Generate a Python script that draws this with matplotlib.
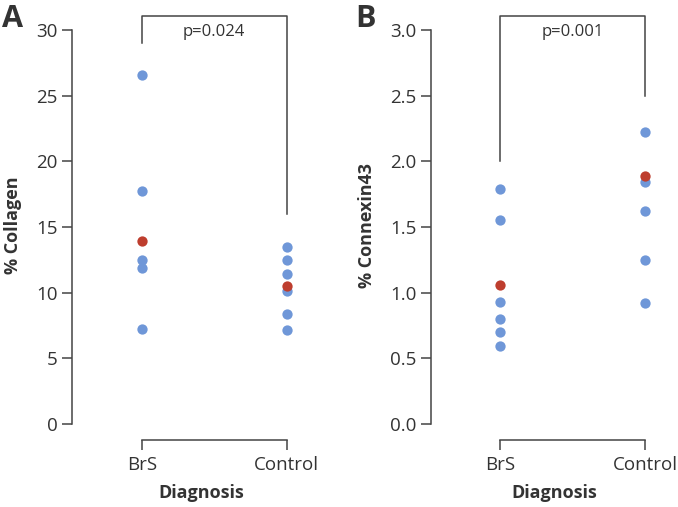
import matplotlib.pyplot as plt

plt.rcParams['font.family'] = ['Open Sans', 'DejaVu Sans']

groups = ['BrS', 'Control']

# panel A: % collagen
collagen_brs = [26.6, 17.7, 12.5, 11.9, 7.2]
collagen_brs_red = [13.9]
collagen_ctl = [13.5, 12.5, 11.4, 10.15, 8.4, 7.15]
collagen_ctl_red = [10.5]

# panel B: % connexin43
cx43_brs = [1.79, 1.55, 0.93, 0.80, 0.70, 0.59]
cx43_brs_red = [1.06]
cx43_ctl = [2.22, 1.84, 1.62, 1.25, 0.92]
cx43_ctl_red = [1.89]

BLUE = '#6f97d8'
RED = '#be3e2e'
TXT = '#333333'
W, H = 678, 507


def panel(px_left, px_right, px_cat0, ylab, yticks, ymin, ymax, brs, brs_red, ctl, ctl_red,
          legs, ptxt, letter, letter_x, ticklabels):
    ax = fig.add_axes([px_left / W, (H - 440) / H, (px_right - px_left) / W, 430 / H])
    ax.scatter([0] * len(brs), brs, s=55, color=BLUE, zorder=3, linewidths=0)
    ax.scatter([1] * len(ctl), ctl, s=55, color=BLUE, zorder=3, linewidths=0)
    ax.scatter([0] * len(brs_red), brs_red, s=55, color=RED, zorder=4, linewidths=0)
    ax.scatter([1] * len(ctl_red), ctl_red, s=55, color=RED, zorder=4, linewidths=0)

    ax.set_xlim((px_left - px_cat0) / 145, (px_right - px_cat0) / 145)
    ax.set_ylim(ymin, ymax)
    for s in ['top', 'right']:
        ax.spines[s].set_visible(False)
    ax.spines['left'].set_bounds(yticks[0], yticks[-1])
    ax.spines['bottom'].set_bounds(0, 1)
    for s in ['left', 'bottom']:
        ax.spines[s].set_color('#444444')
        ax.spines[s].set_linewidth(1.1)
    ax.set_yticks(yticks)
    ax.set_yticklabels(ticklabels)
    ax.set_xticks([0, 1])
    ax.set_xticklabels(groups)
    ax.tick_params(axis='both', length=7.2, width=1.1, color='#444444',
                   labelsize=13.5, labelcolor=TXT)
    ax.tick_params(axis='x', pad=4.5)
    ax.tick_params(axis='y', pad=3)
    ax.set_ylabel(ylab, fontsize=13, fontweight='bold', color=TXT, labelpad=10)
    ax.set_xlabel('Diagnosis', fontsize=13, fontweight='bold', color=TXT, labelpad=7)

    top = ymax - (ymax - ymin) * 6 / 430
    ax.plot([0, 0, 1, 1], [legs[0], top, top, legs[1]], color='#444444', lw=1.1,
            clip_on=False)
    ax.text(0.5, top - (ymax - ymin) * 16 / 430, ptxt, ha='center', va='center',
            fontsize=12, color=TXT)
    fig.text(letter_x / W, 1 - 19 / H, letter, fontsize=22, fontweight='bold',
             color=TXT, ha='center', va='center')
    return ax


fig = plt.figure(figsize=(6.78, 5.07), dpi=100)

panel(72, 330, 141.7, '% Collagen', [0, 5, 10, 15, 20, 25, 30], -1.24, 31.53,
      collagen_brs, collagen_brs_red, collagen_ctl, collagen_ctl_red,
      (29.0, 16.0), 'p=0.024', 'A', 13,
      ['0', '5', '10', '15', '20', '25', '30'])

panel(430.7, 678, 500.3, '% Connexin43', [0, 0.5, 1.0, 1.5, 2.0, 2.5, 3.0], -0.124, 3.153,
      cx43_brs, cx43_brs_red, cx43_ctl, cx43_ctl_red,
      (2.0, 2.5), 'p=0.001', 'B', 365,
      ['0.0', '0.5', '1.0', '1.5', '2.0', '2.5', '3.0'])

fig.savefig('out.png', dpi=100)
